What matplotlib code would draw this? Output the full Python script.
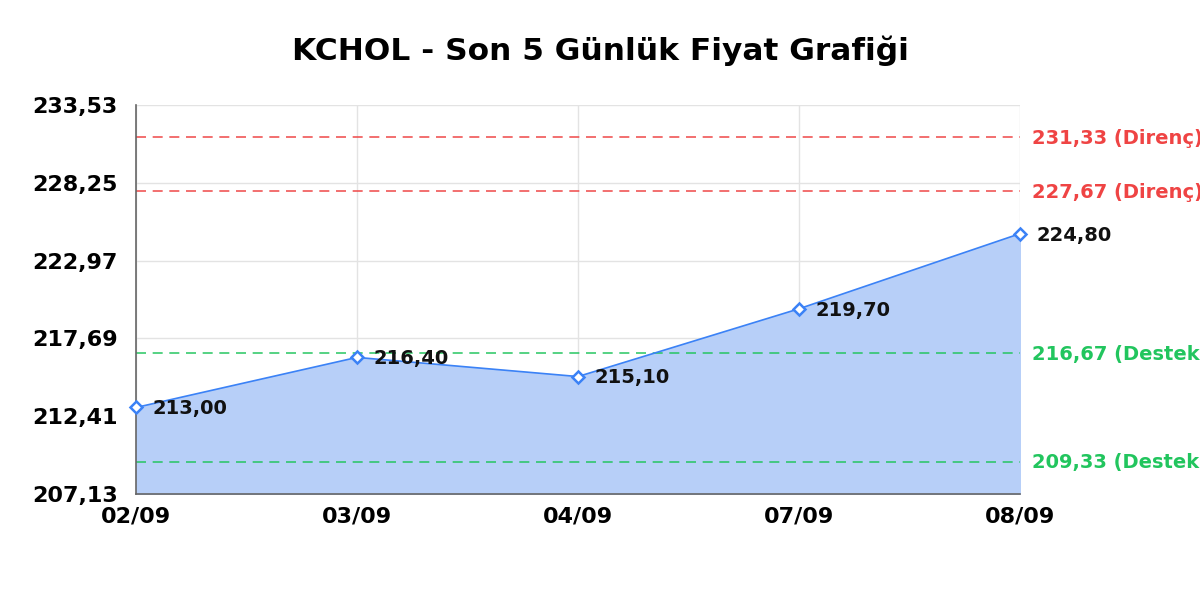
import matplotlib
matplotlib.use('Agg')
import matplotlib.pyplot as plt
from matplotlib.ticker import FixedLocator

dates = ['02/09', '03/09', '04/09', '07/09', '08/09']
prices = [213.00, 216.40, 215.10, 219.70, 224.80]
resistance = [231.33, 227.67]
support = [216.67, 209.33]
y_ticks = [207.13, 212.41, 217.69, 222.97, 228.25, 233.53]
title = 'KCHOL - Son 5 Günlük Fiyat Grafiği'


def tr(v):
    return f"{v:.2f}".replace('.', ',')


fig = plt.figure(figsize=(12, 6), dpi=100)
ax = fig.add_axes([0.1133, 0.1767, 0.7367, 0.6483])

x = list(range(len(dates)))
ax.fill_between(x, prices, y_ticks[0], color='#b7cff8', zorder=1)
ax.plot(x, prices, color='#3b82f6', lw=1.2, zorder=3)
ax.plot(x, prices, ls='none', marker='D', ms=6.5, mfc='white', mec='#3b82f6',
        mew=1.8, zorder=4, clip_on=False)

for xi, p in zip(x, prices):
    ax.annotate(tr(p), (xi, p), xytext=(12, -1), textcoords='offset points',
                va='center', ha='left', fontsize=14, fontweight='bold',
                color='#111111', zorder=5, annotation_clip=False)

for lvl in resistance:
    ax.axhline(lvl, color='#ef4444', ls=(0, (6, 4)), lw=1.2, alpha=0.9, zorder=2)
    ax.annotate(f"{tr(lvl)} (Direnç)", (1, lvl), xycoords=('axes fraction', 'data'),
                xytext=(9, -1), textcoords='offset points', va='center', ha='left',
                fontsize=14, fontweight='bold', color='#ef4444', annotation_clip=False)
for lvl in support:
    ax.axhline(lvl, color='#22c55e', ls=(0, (6, 4)), lw=1.2, alpha=0.9, zorder=2)
    ax.annotate(f"{tr(lvl)} (Destek)", (1, lvl), xycoords=('axes fraction', 'data'),
                xytext=(9, -1), textcoords='offset points', va='center', ha='left',
                fontsize=14, fontweight='bold', color='#22c55e', annotation_clip=False)

ax.set_xlim(0, len(dates) - 1)
ax.set_ylim(y_ticks[0], y_ticks[-1])
ax.set_xticks(x)
ax.set_xticklabels(dates, fontsize=16, fontweight='bold')
ax.yaxis.set_major_locator(FixedLocator(y_ticks))
ax.set_yticklabels([tr(v) for v in y_ticks], fontsize=16, fontweight='bold')
ax.tick_params(length=0)
ax.tick_params(axis='y', pad=13)
ax.tick_params(axis='x', pad=9)
ax.grid(True, color='#e3e3e3', lw=1, zorder=0)
ax.set_axisbelow(True)
for s in ['top', 'right']:
    ax.spines[s].set_visible(False)
for s in ['left', 'bottom']:
    ax.spines[s].set_color('#666666')
    ax.spines[s].set_linewidth(1.2)

fig.text(0.5, 0.9, title, ha='center', va='baseline', fontsize=22.5, fontweight='bold')

fig.savefig('out.png', dpi=100)
